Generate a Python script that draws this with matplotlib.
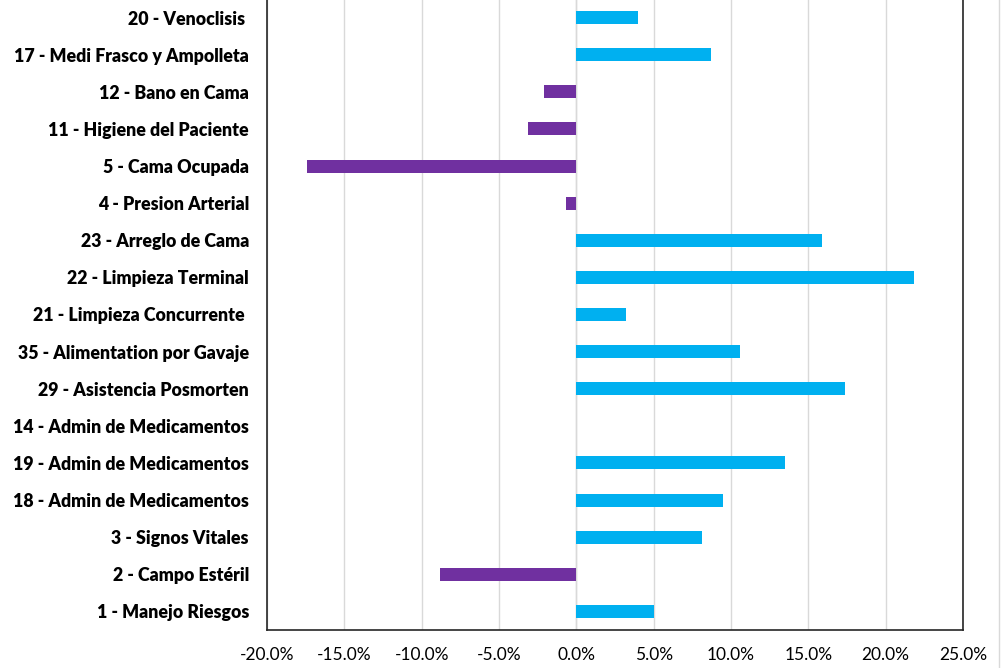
import matplotlib.pyplot as plt
from matplotlib.lines import Line2D
from matplotlib.ticker import FuncFormatter

# Categories from bottom to top
labels = [
    '1 - Manejo Riesgos',
    '2 - Campo Estéril',
    '3 - Signos Vitales',
    '18 - Admin de Medicamentos',
    '19 - Admin de Medicamentos',
    '14 - Admin de Medicamentos',
    '29 - Asistencia Posmorten',
    '35 - Alimentation por Gavaje',
    '21 - Limpieza Concurrente ',
    '22 - Limpieza Terminal',
    '23 - Arreglo de Cama',
    '4 - Presion Arterial',
    '5 - Cama Ocupada',
    '11 - Higiene del Paciente',
    '12 - Bano en Cama',
    '17 - Medi Frasco y Ampolleta',
    '20 - Venoclisis ',
]
values = [5.0, -8.8, 8.1, 9.5, 13.5, 0.0, 17.4, 10.6, 3.2, 21.8, 15.9,
          -0.7, -17.4, -3.1, -2.1, 8.7, 4.0]

ticks = [-20, -15, -10, -5, 0, 5, 10, 15, 20, 25]

blue = '#00B0F0'
purple = '#7030A0'
colors = [blue if v >= 0 else purple for v in values]

plt.rcParams['font.family'] = ['Lato', 'DejaVu Sans']

fig = plt.figure(figsize=(10.08, 6.68), dpi=100)
ax = fig.add_axes([0.2649, 0.0569, 0.6905, 0.9446])

y = list(range(len(labels)))
ax.barh(y, values, height=0.35, color=colors, zorder=3)

ax.set_xlim(-20, 25)
ax.set_ylim(-0.5, len(labels) - 0.5)
ax.set_xticks(ticks)
ax.xaxis.set_major_formatter(FuncFormatter(lambda v, p: f'{v:.1f}%'))
ax.set_yticks(y)
ax.set_yticklabels(labels, fontsize=12.8, fontweight='heavy')
ax.tick_params(axis='y', length=0, pad=13)
ax.tick_params(axis='x', length=0, pad=12, labelsize=12.5)

ax.grid(axis='x', color='#D9D9D9', linewidth=1, zorder=0)
ax.axvline(0, color='#D9D9D9', linewidth=1, zorder=1)

for side in ['left', 'right', 'bottom']:
    ax.spines[side].set_color('#262626')
    ax.spines[side].set_linewidth(1.2)
ax.spines['top'].set_visible(False)

# outer chart border on the right
fig.add_artist(Line2D([0.9915, 0.9915], [0, 1], color='#D9D9D9', linewidth=1))

fig.savefig('out.png', dpi=100)
